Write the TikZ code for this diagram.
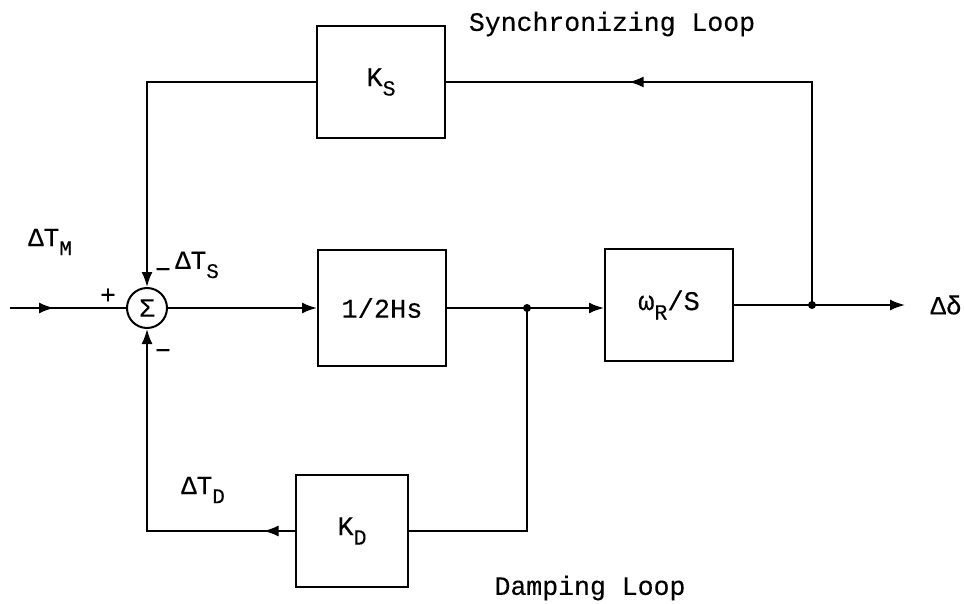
\documentclass[tikz,border=0pt]{standalone}
\usepackage{fontspec}
\setmainfont{Liberation Mono}[FakeBold=0.3]
\usetikzlibrary{arrows.meta,decorations.markings}
\newcommand{\lsub}[1]{\raisebox{-0.35em}{\scalebox{0.8}{#1}}}
\begin{document}
\begin{tikzpicture}[x=1pt,y=-1pt,line width=2pt,
  blk/.style={draw, minimum width=128pt, minimum height=112pt, inner sep=0pt, font=\fontsize{27}{30}\selectfont},
  lbl/.style={font=\fontsize{26}{30}\selectfont, inner sep=0pt},
  big/.style={font=\fontsize{26.5}{30}\selectfont, inner sep=0pt},
  tip/.style={-{Latex[length=15pt,width=11pt]}},
  midarrow/.style={postaction={decorate}, decoration={markings, mark=at position #1 with {\arrow{Latex[length=15pt,width=11pt]}}}},
  dot/.style={circle, fill, inner sep=0pt, minimum size=8pt}]
\useasboundingbox (0,0) rectangle (964,604);
% blocks
\node[blk] (ks) at (381,82) {K\lsub{S}};
\node[blk, minimum height=116pt] (hs) at (382,308) {1/2Hs};
\node[blk] (wr) at (669,305) {ω\lsub{R}/S};
\node[blk, minimum width=112pt] (kd) at (352,531) {K\lsub{D}};
\node[draw, circle, minimum size=40pt, inner sep=0pt, font=\fontsize{26}{30}\selectfont] (sum) at (147,308) {Σ};
% coordinates
\coordinate (in) at (10,308);
\coordinate (j1) at (527,308);
\coordinate (j2) at (812,305);
\coordinate (out) at (905,305);
% connectors
\draw[midarrow=0.38] (in) -- (sum.west);
\draw[tip] (sum.east) -- (hs.west);
\draw (hs.east) -- (j1);
\draw[tip] (j1) -- (wr.west |- j1);
\draw (wr.east) -- (j2);
\draw[tip] (j2) -- (out);
\draw[midarrow=0.69] (j2) |- (ks.east);
\draw[tip] (ks.west) -| (sum.north);
\draw (j1) |- (kd.east);
\draw[midarrow=0.09, tip] (kd.west) -| (sum.south);
\node[dot] at (j1) {};
\node[dot] at (j2) {};
% labels
\node[lbl] (tm) at (50,242) {ΔT\lsub{M}};
\node[lbl] (plus) at (108,296) {+};
\node[lbl] (ts) at (197,265) {ΔT\lsub{S}};
\node[lbl] (m1) at (163,273) {−};
\node[lbl] (m2) at (163,354) {−};
\node[lbl] (td) at (203,490) {ΔT\lsub{D}};
\node[lbl] (dd) at (946,305) {Δδ};
\node[big] (sl) at (612,24) {Synchronizing Loop};
\node[big] (dl) at (590,588) {Damping Loop};
\end{tikzpicture}
\end{document}
